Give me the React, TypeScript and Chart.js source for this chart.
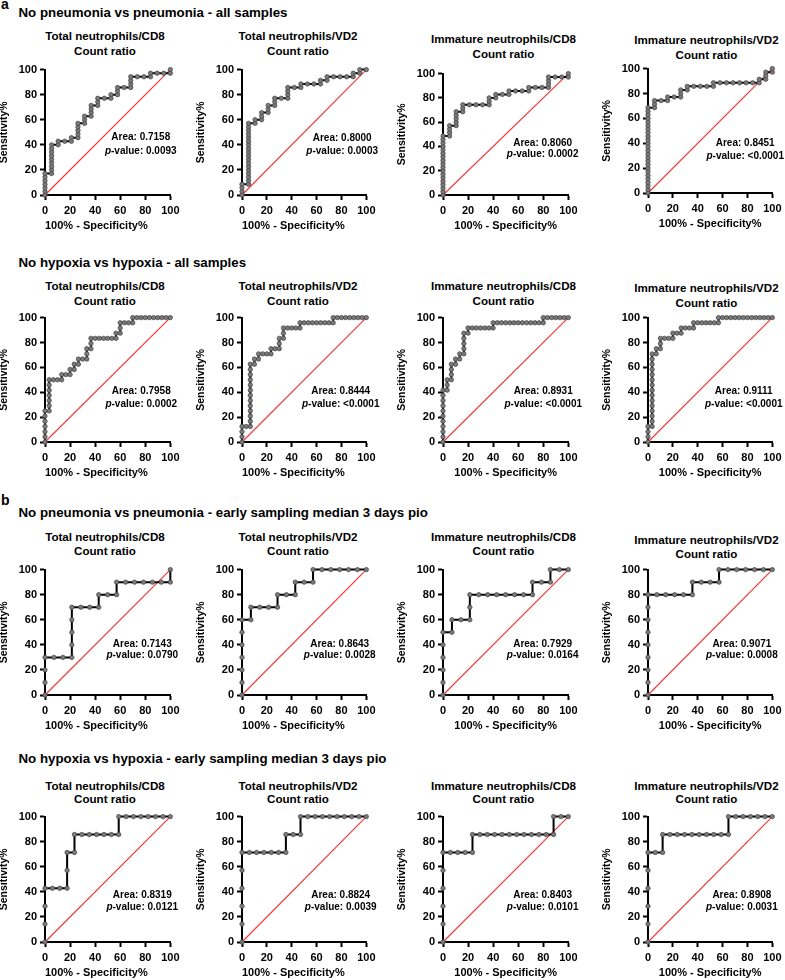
import React, { useEffect, useRef } from "react";
import { Chart, registerables } from "chart.js";

Chart.register(...registerables);

const FONT = '"Liberation Sans", Arial, Helvetica, sans-serif';

// ---------- text ----------
const panelLetters = ["a", "b"];
const sectionTitles = [
  "No pneumonia vs pneumonia - all samples",
  "No hypoxia vs hypoxia - all samples",
  "No pneumonia vs pneumonia - early sampling median 3 days pio",
  "No hypoxia vs hypoxia - early sampling median 3 days pio",
];
const ratioNames = [
  "Total neutrophils/CD8",
  "Total neutrophils/VD2",
  "Immature neutrophils/CD8",
  "Immature neutrophils/VD2",
];
const ratioSubtitle = "Count ratio";
const xAxisTitle = "100% - Specificity%";
const yAxisTitle = "Sensitivity%";
const axisTicks = [0, 20, 40, 60, 80, 100];

// ---------- data ----------
// group sizes per row of panels (controls = negatives, cases = positives)
const negCounts = [19, 30, 14, 17];
const posCounts = [35, 24, 10, 7];

const areaValues = [
  "0.7158", "0.8000", "0.8060", "0.8451",
  "0.7958", "0.8444", "0.8931", "0.9111",
  "0.7143", "0.8643", "0.7929", "0.9071",
  "0.8319", "0.8824", "0.8403", "0.8908",
];
const pValues = [
  "0.0093", "0.0003", "0.0002", "<0.0001",
  "0.0002", "<0.0001", "<0.0001", "<0.0001",
  "0.0790", "0.0028", "0.0164", "0.0008",
  "0.0121", "0.0039", "0.0101", "0.0031",
];

// ROC points: cumulative false-positive (FP) and true-positive (TP) counts
const a1FP = [0,0,0,0,0,0,0,1,1,1,1,1,1,1,1,1,2,2,3,4,4,5,5,5,5,5,6,6,6,7,7,7,7,8,8,8,9,10,10,11,11,11,12,13,13,13,13,14,15,16,16,17,18,19,19];
const a1TP = [0,1,2,3,4,5,6,6,7,8,9,10,11,12,13,14,14,15,15,15,16,16,17,18,19,20,20,21,22,22,23,24,25,25,26,27,27,27,28,28,29,30,30,30,31,32,33,33,33,33,34,34,34,34,35];
const a2FP = [0,0,0,0,1,1,1,1,1,1,1,1,1,1,1,1,1,1,1,1,1,1,2,2,3,3,3,4,4,4,5,5,5,6,7,7,7,7,8,9,9,10,11,12,12,13,13,14,15,16,17,17,18,18,19];
const a2TP = [0,1,2,3,3,4,5,6,7,8,9,10,11,12,13,14,15,16,17,18,19,20,20,21,21,22,23,23,24,25,25,26,27,27,27,28,29,30,30,30,31,31,31,31,32,32,33,33,33,33,33,34,34,35,35];
const a3FP = [0,0,0,0,0,0,0,0,0,0,0,0,0,0,0,0,0,0,1,1,1,1,2,2,2,2,2,3,3,3,4,5,6,7,7,7,8,8,9,10,10,11,12,13,13,14,15,16,16,16,16,17,18,19,19];
const a3TP = [0,1,2,3,4,5,6,7,8,9,10,11,12,13,14,15,16,17,17,18,19,20,20,21,22,23,24,24,25,26,26,26,26,26,27,28,28,29,29,29,30,30,30,30,31,31,31,31,32,33,34,34,34,34,35];
const a4FP = [0,0,0,0,0,0,0,0,0,0,0,0,0,0,0,0,0,0,0,0,0,0,0,0,0,1,1,1,2,3,3,4,5,5,5,6,6,7,8,9,10,10,11,12,13,14,15,16,17,17,18,18,18,19,19];
const a4TP = [0,1,2,3,4,5,6,7,8,9,10,11,12,13,14,15,16,17,18,19,20,21,22,23,24,24,25,26,26,26,27,27,27,28,29,29,30,30,30,30,30,31,31,31,31,31,31,31,31,32,32,33,34,34,35];

const b1FP = [0,0,0,0,0,0,0,1,1,1,1,1,1,1,2,3,4,4,5,6,6,7,7,8,8,9,10,10,10,11,11,11,12,13,14,15,16,17,17,18,18,18,19,20,21,21,22,23,24,25,26,27,28,29,30];
const b1TP = [0,1,2,3,4,5,6,6,7,8,9,10,11,12,12,12,12,13,13,13,14,14,15,15,16,16,16,17,18,18,19,20,20,20,20,20,20,20,21,21,22,23,23,23,23,24,24,24,24,24,24,24,24,24,24];
const b2FP = [0,0,0,0,1,2,2,2,2,2,2,2,2,2,2,2,2,2,3,3,4,4,5,6,7,7,8,9,9,9,10,10,10,11,12,13,14,14,15,16,17,18,19,20,21,22,22,23,24,25,26,27,28,29,30];
const b2TP = [0,1,2,3,3,3,4,5,6,7,8,9,10,11,12,13,14,15,15,16,16,17,17,17,17,18,18,18,19,20,20,21,22,22,22,22,22,23,23,23,23,23,23,23,23,23,24,24,24,24,24,24,24,24,24];
const b3FP = [0,0,0,0,0,0,0,0,0,0,0,1,1,1,2,2,2,2,3,3,4,4,5,5,5,5,5,6,6,7,8,9,10,11,12,12,13,14,15,16,17,18,19,20,21,22,23,24,24,25,26,27,28,29,30];
const b3TP = [0,1,2,3,4,5,6,7,8,9,10,10,11,12,12,13,14,15,15,16,16,17,17,18,19,20,21,21,22,22,22,22,22,22,22,23,23,23,23,23,23,23,23,23,23,23,23,23,24,24,24,24,24,24,24];
const b4FP = [0,0,0,0,1,1,1,1,1,1,1,1,1,1,1,1,1,1,1,2,2,3,3,3,4,5,6,6,7,8,8,9,10,11,11,12,13,14,15,16,17,17,18,19,20,21,22,23,24,25,26,27,28,29,30];
const b4TP = [0,1,2,3,3,4,5,6,7,8,9,10,11,12,13,14,15,16,17,17,18,18,19,20,20,20,20,21,21,21,22,22,22,22,23,23,23,23,23,23,23,24,24,24,24,24,24,24,24,24,24,24,24,24,24];

const c1FP = [0,0,0,0,1,2,3,3,3,3,3,4,5,6,6,7,8,8,9,10,11,12,13,14,14];
const c1TP = [0,1,2,3,3,3,3,4,5,6,7,7,7,7,8,8,8,9,9,9,9,9,9,9,10];
const c2FP = [0,0,0,0,0,0,0,1,1,2,3,4,4,5,6,6,7,8,8,9,10,11,12,13,14];
const c2TP = [0,1,2,3,4,5,6,6,7,7,7,7,8,8,8,9,9,9,10,10,10,10,10,10,10];
const c3FP = [0,0,0,0,0,0,1,1,2,3,3,3,4,5,6,7,8,9,10,10,11,12,12,13,14];
const c3TP = [0,1,2,3,4,5,5,6,6,6,7,8,8,8,8,8,8,8,8,9,9,9,10,10,10];
const c4FP = [0,0,0,0,0,0,0,0,0,1,2,3,4,5,5,6,7,8,8,9,10,11,12,13,14];
const c4TP = [0,1,2,3,4,5,6,7,8,8,8,8,8,8,9,9,9,9,10,10,10,10,10,10,10];

const d1FP = [0,0,0,0,1,2,3,3,3,4,4,5,6,7,8,9,10,10,11,12,13,14,15,16,17];
const d1TP = [0,1,2,3,3,3,3,4,5,5,6,6,6,6,6,6,6,7,7,7,7,7,7,7,7];
const d2FP = [0,0,0,0,0,0,1,2,3,4,5,6,6,7,8,8,9,10,11,12,13,14,15,16,17];
const d2TP = [0,1,2,3,4,5,5,5,5,5,5,5,6,6,6,7,7,7,7,7,7,7,7,7,7];
const d3FP = [0,0,0,0,0,0,1,2,3,4,4,5,6,7,8,9,10,11,12,13,14,15,15,16,17];
const d3TP = [0,1,2,3,4,5,5,5,5,5,6,6,6,6,6,6,6,6,6,6,6,6,7,7,7];
const d4FP = [0,0,0,0,0,0,1,2,2,3,4,5,6,7,8,9,10,11,11,12,13,14,15,16,17];
const d4TP = [0,1,2,3,4,5,5,5,6,6,6,6,6,6,6,6,6,6,7,7,7,7,7,7,7];

const rocFP = [a1FP, a2FP, a3FP, a4FP, b1FP, b2FP, b3FP, b4FP, c1FP, c2FP, c3FP, c4FP, d1FP, d2FP, d3FP, d4FP];
const rocTP = [a1TP, a2TP, a3TP, a4TP, b1TP, b2TP, b3TP, b4TP, c1TP, c2TP, c3TP, c4TP, d1TP, d2TP, d3TP, d4TP];

// ---------- layout (pixels) ----------
const colLeft = [45, 242, 443, 648];
const colRight = [172, 368, 570, 774];
const plotTop = [[68, 68, 72, 67], [316, 316, 316, 316], [568, 568, 568, 568], [815, 815, 815, 815]];
const plotBottom = [[195, 195, 195, 193], [442, 442, 442, 442], [695, 695, 695, 695], [942, 942, 942, 942]];
const titleCX = [105, 298, 503.5, 706.5];
const titleY = [[35, 35, 38, 39.5], [285, 285, 285, 287], [537, 537, 537, 540], [785, 785, 785, 785]];
const titleGap = [15, 15, 14, 13];
const headerTop = [5, 255, 505, 751];
const letterTop = [-4.5, 492];
const annX = [[76.4, 80.6, 79.5, 78.2], [76.8, 79.4, 80, 77], [77.6, 78.6, 79.5, 75.5], [77.6, 79.4, 79.5, 75.5]];
const annY = [
  [[45.7, 34.6], [45.4, 34.9], [42.3, 33.3], [39.7, 29.4]],
  [[40.7, 30.7], [40.7, 30.7], [40.7, 30.7], [40.7, 30.7]],
  [[40.4, 31.5], [40.4, 31.5], [40.4, 31.5], [40.4, 31.5]],
  [[37.6, 27.8], [37.6, 27.8], [37.6, 27.8], [37.6, 27.8]],
];
const xTitleAlign = ["start", "start", "center", "center"];

const Y_W = 47;
const PAD_T = 8;
const PAD_R = 12;
const X_H = 40;

function RocChart({ row, col }: { row: number; col: number }) {
  const ref = useRef<HTMLCanvasElement | null>(null);
  const i = row * 4 + col;
  const L = colLeft[col];
  const R = colRight[col];
  const T = plotTop[row][col];
  const B = plotBottom[row][col];
  const w = R - L + Y_W + PAD_R;
  const h = B - T + PAD_T + X_H;

  useEffect(() => {
    if (!ref.current) return;
    const fp = rocFP[i];
    const tp = rocTP[i];
    const points = fp.map((f, k) => ({
      x: (f / negCounts[row]) * 100,
      y: (tp[k] / posCounts[row]) * 100,
    }));
    const tickFont = { family: FONT, size: 11, weight: "bold" as const };

    const textPlugin = {
      id: "rocText",
      afterDatasetsDraw(chart: any) {
        const { ctx, scales } = chart;
        const cx = scales.x.getPixelForValue(annX[row][col]);
        const y1 = scales.y.getPixelForValue(annY[row][col][0]);
        const y2 = scales.y.getPixelForValue(annY[row][col][1]);
        const bold = `bold 10px ${FONT}`;
        const ital = `italic bold 10px ${FONT}`;
        ctx.save();
        ctx.fillStyle = "#000";
        ctx.textBaseline = "middle";
        ctx.textAlign = "center";
        ctx.font = bold;
        ctx.fillText(`Area: ${areaValues[i]}`, cx, y1);
        const rest = `-value: ${pValues[i]}`;
        ctx.font = ital;
        const wp = ctx.measureText("p").width;
        ctx.font = bold;
        const wr = ctx.measureText(rest).width;
        const sx = cx - (wp + wr) / 2;
        ctx.textAlign = "left";
        ctx.font = ital;
        ctx.fillText("p", sx, y2);
        ctx.font = bold;
        ctx.fillText(rest, sx + wp, y2);
        ctx.restore();
      },
    };

    const axisCommon = {
      type: "linear" as const,
      min: 0,
      max: 100,
      afterBuildTicks: (s: any) => {
        s.ticks = axisTicks.map((v) => ({ value: v }));
      },
      grid: {
        display: true,
        drawOnChartArea: false,
        drawTicks: true,
        tickLength: 5,
        tickWidth: 2,
        tickColor: "#000",
      },
      border: { display: true, color: "#000", width: 2 },
    };

    const chart = new Chart(ref.current, {
      type: "scatter",
      data: {
        datasets: [
          {
            data: [
              { x: 0, y: 0 },
              { x: 100, y: 100 },
            ],
            showLine: true,
            borderColor: "#f03a3a",
            borderWidth: 1.2,
            pointRadius: 0,
            clip: false,
            order: 2,
          },
          {
            data: points,
            showLine: true,
            borderColor: "#000",
            borderWidth: 2,
            pointRadius: 2.2,
            pointBackgroundColor: "#7a7a7a",
            pointBorderColor: "#444",
            pointBorderWidth: 0.7,
            clip: false,
            order: 1,
          },
        ],
      },
      options: {
        responsive: false,
        animation: false,
        events: [],
        layout: { padding: { top: PAD_T, right: PAD_R, left: 0, bottom: 0 } },
        plugins: {
          legend: { display: false },
          tooltip: { enabled: false },
          title: { display: false },
        },
        scales: {
          x: {
            ...axisCommon,
            afterFit: (s: any) => {
              s.height = X_H;
            },
            ticks: { color: "#000", font: tickFont, padding: 4.5, maxRotation: 0, autoSkip: false },
            title: {
              display: true,
              text: xAxisTitle,
              align: xTitleAlign[col] as any,
              color: "#000",
              font: { family: FONT, size: 11, weight: "bold" },
              padding: { top: 0, bottom: 2.9 },
            },
          },
          y: {
            ...axisCommon,
            afterFit: (s: any) => {
              s.width = Y_W;
            },
            ticks: { color: "#000", font: tickFont, padding: 3, autoSkip: false },
            title: {
              display: true,
              text: yAxisTitle,
              color: "#000",
              font: { family: FONT, size: 10.5, weight: "bold" },
              padding: { top: 0, bottom: 0 },
            },
          },
        },
      } as any,
      plugins: [textPlugin],
    });
    return () => chart.destroy();
  }, [i, row, col]);

  return (
    <canvas
      ref={ref}
      width={w}
      height={h}
      style={{ position: "absolute", left: L - Y_W, top: T - PAD_T, width: w, height: h }}
    />
  );
}

export default function App() {
  useEffect(() => {
    document.body.style.margin = "0";
  }, []);
  const rows = [0, 1, 2, 3];
  const cols = [0, 1, 2, 3];
  return (
    <div
      style={{
        position: "absolute",
        left: 0,
        top: 0,
        width: 785,
        height: 980,
        overflow: "hidden",
        background: "#fff",
        fontFamily: FONT,
        color: "#000",
      }}
    >
      {panelLetters.map((l, k) => (
        <div
          key={"l" + k}
          style={{
            position: "absolute",
            left: 1,
            top: letterTop[k],
            fontSize: 14,
            fontWeight: 700,
            lineHeight: "16px",
          }}
        >
          {l}
        </div>
      ))}
      {sectionTitles.map((t, r) => (
        <div
          key={"h" + r}
          style={{
            position: "absolute",
            left: 18.5,
            top: headerTop[r],
            fontSize: 13.3,
            fontWeight: 700,
            lineHeight: "16px",
            whiteSpace: "nowrap",
          }}
        >
          {t}
        </div>
      ))}
      {rows.map((r) =>
        cols.map((c) => (
          <React.Fragment key={`p${r}-${c}`}>
            <div
              style={{
                position: "absolute",
                left: titleCX[c] - 95,
                width: 190,
                top: titleY[r][c] - titleGap[r] / 2,
                fontSize: 11.6,
                fontWeight: 700,
                lineHeight: `${titleGap[r]}px`,
                textAlign: "center",
                whiteSpace: "nowrap",
              }}
            >
              {ratioNames[c]}
              <br />
              {ratioSubtitle}
            </div>
            <RocChart row={r} col={c} />
          </React.Fragment>
        ))
      )}
    </div>
  );
}
